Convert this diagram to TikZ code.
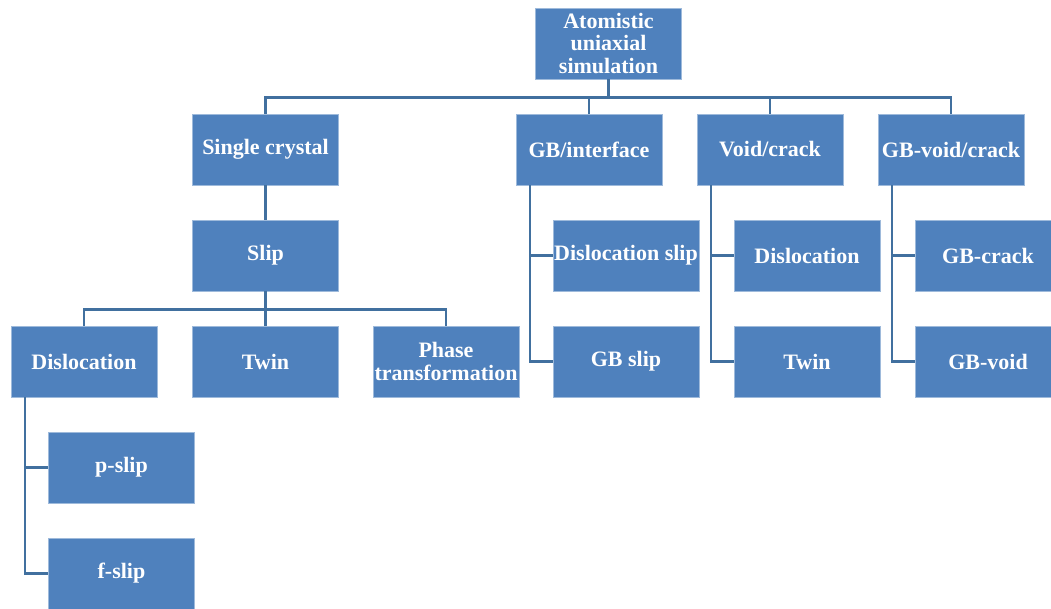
\documentclass[tikz,border=0pt]{standalone}
\usepackage{fontspec}
\setmainfont{Liberation Serif}
\definecolor{boxblue}{HTML}{4F81BD}
\definecolor{lineblue}{HTML}{41709F}
\begin{document}
\begin{tikzpicture}[x=1pt,y=-1pt,
  box/.style={rectangle, fill=boxblue, draw=boxblue!55!white, line width=0.6pt,
    minimum width=146pt, minimum height=71pt, inner sep=0pt, align=center,
    text=white, font=\fontsize{22}{22.5}\selectfont\bfseries},
  conn/.style={draw=lineblue, line width=2.4pt}]
\useasboundingbox (0,0) rectangle (1051,608);
\node[box] (top) at (608.5,43.5) {Atomistic\\uniaxial\\simulation};
\node[box] (sc) at (265.5,149.5) {Single crystal};
\node[box] (gbi) at (589,149.5) {GB/interface};
\node[box] (vc) at (770,149.5) {Void/crack};
\node[box] (gbv) at (951,149.5) {GB-void/crack};
\node[box] (slip) at (265.5,255.5) {Slip};
\node[box] (dis) at (84,361.5) {Dislocation};
\node[box] (twin) at (265.5,361.5) {Twin};
\node[box] (phase) at (446,361.5) {Phase\\transformation};
\node[box] (pslip) at (121.5,467.5) {p-slip};
\node[box] (fslip) at (121.5,573.5) {f-slip};
\node[box] (dslip) at (626,255.5) {Dislocation slip};
\node[box] (gbslip) at (626,361.5) {GB slip};
\node[box] (vdis) at (807,255.5) {Dislocation};
\node[box] (vtwin) at (807,361.5) {Twin};
\node[box] (gbcrack) at (988,255.5) {GB-crack};
\node[box] (gbvoid) at (988,361.5) {GB-void};
% top bus
\path (top.south) ++(0,18) coordinate (j1);
\draw[conn] (top.south) -- (j1);
\foreach \n in {sc,gbi,vc,gbv} \draw[conn] (j1) -| (\n.north);
\draw[conn] (sc.south) -- (slip.north);
% slip bus
\path (slip.south) ++(0,18) coordinate (j2);
\draw[conn] (slip.south) -- (j2);
\foreach \n in {dis,twin,phase} \draw[conn] (j2) -| (\n.north);
% side stems
\draw[conn] ([xshift=14pt]dis.south west) |- (pslip.west);
\draw[conn] ([xshift=14pt]dis.south west) |- (fslip.west);
\draw[conn] ([xshift=14pt]gbi.south west) |- (dslip.west);
\draw[conn] ([xshift=14pt]gbi.south west) |- (gbslip.west);
\draw[conn] ([xshift=14pt]vc.south west) |- (vdis.west);
\draw[conn] ([xshift=14pt]vc.south west) |- (vtwin.west);
\draw[conn] ([xshift=14pt]gbv.south west) |- (gbcrack.west);
\draw[conn] ([xshift=14pt]gbv.south west) |- (gbvoid.west);
\end{tikzpicture}
\end{document}
